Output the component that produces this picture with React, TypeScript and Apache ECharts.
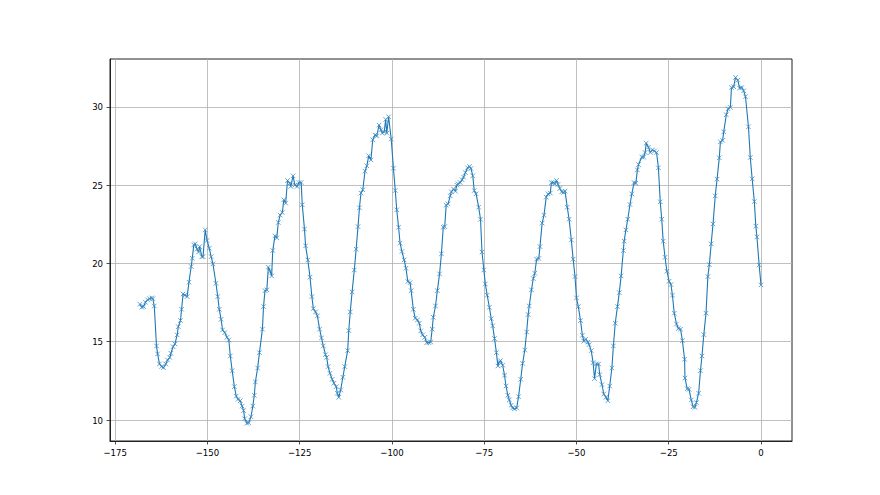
import React, { useEffect, useRef } from "react";
import * as echarts from "echarts";

const hours = [
  -168.3, -167.8, -167.3, -166.8, -166.2, -165.7, -165.1, -164.8, -164.4, -163.8,
  -163.5, -163.0, -162.4, -161.9, -161.3, -160.8, -160.2, -159.9, -159.3, -158.8,
  -158.2, -157.9, -157.3, -157.0, -156.6, -156.1, -155.5, -155.0, -154.4, -154.1,
  -153.7, -153.3, -152.8, -152.4, -152.1, -151.5, -151.2, -150.6, -150.1, -149.5,
  -149.0, -148.5, -147.7, -147.2, -146.8, -146.3, -145.9,
  -145.3, -144.7, -144.2, -143.8, -143.3, -142.7, -142.2, -141.7, -141.1, -140.6,
  -140.2, -139.9, -139.3, -138.8, -138.2, -137.7, -137.3, -137.0, -136.4, -135.9,
  -135.1, -134.8, -134.4, -133.9, -133.5, -133.0, -132.6, -132.3, -131.7, -131.2,
  -130.8, -130.3, -129.7, -129.3, -128.8, -128.3, -127.7, -127.4, -126.8, -126.3,
  -125.7, -125.2, -124.6, -124.3, -123.7, -123.4, -122.8,
  -122.2, -121.7, -121.3, -120.7, -120.2, -119.6, -119.1, -118.6, -118.0, -117.7,
  -117.3, -116.8, -116.2, -115.7, -115.1, -114.8, -114.4, -113.9, -113.3, -112.8,
  -112.0, -111.7, -111.3, -110.8, -110.2, -109.7, -109.2, -108.8, -108.4, -107.9,
  -107.3, -106.8, -106.3, -105.7, -105.2, -104.6, -104.1, -103.5, -103.0, -102.6,
  -102.1, -101.7, -101.4, -100.9, -100.2,
  -99.6, -99.1, -98.7, -98.2, -97.8, -97.3, -96.7, -96.2, -95.7, -95.1,
  -94.8, -94.2, -93.7, -93.1, -92.6, -92.2, -91.7, -91.1, -90.6, -90.0,
  -89.5, -89.1, -88.8, -88.2, -87.7, -87.1, -86.6, -86.1, -85.7, -85.3,
  -84.8, -84.2, -83.9, -83.3, -82.8, -82.4, -82.1, -81.5, -81.0, -80.6,
  -80.1, -79.5, -79.0, -78.6, -78.1, -77.7, -77.2,
  -76.5, -76.0, -75.6, -75.1, -74.7, -74.2, -73.6, -73.1, -72.7, -72.2,
  -71.7, -71.3, -70.9, -70.6, -70.0, -69.5, -69.1, -68.6, -68.2, -67.7,
  -67.3, -66.8, -66.2, -65.7, -65.1, -64.6, -64.0, -63.5, -63.1, -62.8,
  -62.2, -61.7, -61.3, -60.8, -60.2, -59.9, -59.3, -58.8, -58.2, -57.7,
  -57.1, -56.8, -56.3, -55.9, -55.4, -55.0,
  -54.5, -54.0, -53.5, -53.1, -52.5, -52.0, -51.4, -50.9, -50.4, -50.0,
  -49.5, -48.9, -48.4, -48.0, -47.5, -46.9, -46.6, -46.0, -45.5, -45.1,
  -44.6, -44.0, -43.7, -43.1, -42.6, -42.0, -41.5, -41.0, -40.4, -40.0,
  -39.5, -38.9, -38.4, -37.9, -37.3, -37.1, -36.6, -36.1, -35.5, -35.0,
  -34.4, -33.9, -33.5, -33.2,
  -32.3, -31.8, -31.4, -31.1, -30.5, -30.0, -29.4, -28.9, -28.3, -27.8,
  -27.3, -26.9, -26.5, -26.0, -25.5, -24.9, -24.4, -24.0, -23.5, -22.9,
  -22.4, -21.8, -21.3, -20.7, -20.6, -20.0, -19.5, -18.9, -18.4, -17.9,
  -17.5, -16.9, -16.4, -16.0, -15.5, -14.9, -14.4, -14.0, -13.5, -13.0,
  -12.4, -11.9, -11.3, -11.0, -10.4, -10.1,
  -9.4, -8.9, -8.3, -8.0, -7.4, -6.9, -6.3, -5.8, -5.2, -4.7,
  -4.2, -3.4, -2.9, -2.4, -1.8, -1.4, -1.1, -0.5, 0.0,
];

const temps = [
  17.39, 17.2, 17.24, 17.52, 17.67, 17.75, 17.8, 17.75, 17.28, 14.73,
  14.22, 13.58, 13.41, 13.34, 13.58, 13.83, 14.0, 14.26, 14.68, 14.86,
  15.43, 15.96, 16.35, 17.07, 18.05, 17.97, 17.88, 18.8, 19.8, 20.33,
  21.18, 21.25, 20.91, 20.73, 21.07, 20.43, 20.43, 22.14, 21.46, 20.97,
  20.43, 19.97, 18.73, 17.88, 17.07, 16.43, 15.75,
  15.58, 15.28, 15.11, 14.09, 13.15, 12.13, 11.53, 11.32, 11.23, 10.89,
  10.6, 10.08, 9.79, 9.83, 10.21, 10.89, 11.58, 12.43, 13.32, 14.3,
  15.8, 17.24, 18.26, 18.31, 19.76, 19.5, 19.2, 20.82, 21.76, 21.63,
  22.61, 23.08, 23.25, 24.06, 23.85, 25.29, 25.12, 24.91, 25.59, 25.0,
  24.91, 25.16, 25.16, 23.74, 22.19, 21.12, 20.22,
  19.12, 17.88, 17.11, 16.9, 16.65, 15.8, 15.24, 14.73, 14.17, 14.0,
  13.41, 12.98, 12.6, 12.35, 12.13, 11.71, 11.45, 11.92, 12.73, 13.41,
  14.43, 15.71, 16.9, 18.18, 19.58, 20.91, 22.35, 23.55, 24.49, 24.7,
  25.89, 26.23, 26.87, 26.61, 27.89, 28.19, 28.15, 28.83, 28.53, 28.32,
  28.4, 29.19, 28.32, 29.36, 27.94,
  26.08, 24.65, 23.42, 22.31, 21.29, 20.76, 20.22, 19.69, 18.84, 18.77,
  18.26, 17.07, 16.5, 16.39, 16.18, 15.69, 15.43, 15.28, 14.94, 14.94,
  14.98, 15.8, 16.56, 17.28, 18.26, 19.33, 20.61, 22.31, 22.35, 23.72,
  23.8, 24.31, 24.57, 24.74, 24.61, 25.0, 25.08, 25.16, 25.34, 25.51,
  25.8, 26.1, 26.19, 26.06, 25.59, 24.65, 24.44,
  23.59, 22.82, 20.73, 19.58, 18.69, 17.97, 17.2, 16.47, 16.01, 15.2,
  14.3, 13.45, 13.71, 13.79, 13.5, 12.86, 12.17, 11.58, 11.28, 10.94,
  10.77, 10.72, 10.77, 11.49, 12.6, 13.62, 14.47, 15.62, 16.73, 17.28,
  18.31, 19.03, 19.37, 20.27, 20.31, 21.07, 22.57, 23.08, 24.23, 24.44,
  24.49, 25.16, 25.16, 25.08, 25.29, 25.04,
  24.78, 24.57, 24.53, 24.61, 23.59, 22.82, 21.5, 20.27, 19.16, 17.8,
  17.24, 16.35, 15.41, 15.03, 15.16, 14.98, 14.81, 14.43, 13.66, 12.64,
  13.58, 13.58, 12.9, 12.26, 11.66, 11.45, 11.23, 12.17, 13.32, 14.73,
  16.18, 17.24, 18.13, 19.2, 20.82, 21.42, 22.14, 22.82, 23.76, 24.44,
  25.16, 25.12, 25.97, 26.31,
  26.79, 26.79, 27.08, 27.68, 27.42, 27.08, 27.25, 27.17, 27.08, 26.1,
  23.93, 22.82, 21.42, 20.39, 19.5, 18.86, 18.65, 17.97, 16.82, 16.13,
  15.84, 15.8, 15.07, 13.88, 12.68, 12.0, 11.96, 11.28, 10.85, 10.81,
  11.11, 11.71, 13.15, 14.09, 15.45, 16.82, 19.16, 19.92, 21.25, 22.52,
  24.31, 25.38, 26.74, 27.76, 27.85, 28.4,
  29.49, 29.87, 29.96, 31.23, 31.28, 31.87, 31.7, 31.19, 31.23, 31.02,
  30.64, 28.72, 26.76, 25.4, 23.95, 22.38, 21.69, 19.9, 18.63,
];

const xTicks = [-175, -150, -125, -100, -75, -50, -25, 0];
const yTicks = [10, 15, 20, 25, 30];

const fmt = (v: number) => String(v).replace("-", "\u2212");

export default function App() {
  const ref = useRef<HTMLDivElement>(null);
  useEffect(() => {
    const chart = echarts.init(ref.current!, null, { renderer: "svg" });
    const labelStyle = {
      color: "#000",
      fontSize: 9.5,
      fontFamily: "DejaVu Sans Condensed, DejaVu Sans, sans-serif",
      formatter: fmt,
    };
    chart.setOption({
      animation: false,
      backgroundColor: "#ffffff",
      grid: {
        left: 110,
        right: 88,
        top: 59,
        bottom: 54,
        show: true,
        borderColor: "#222",
        borderWidth: 1,
        backgroundColor: "transparent",
      },
      xAxis: {
        type: "value",
        min: -176.4,
        max: 8.4,
        minInterval: 25,
        maxInterval: 25,
        axisLine: { show: true, onZero: false, lineStyle: { color: "#222", width: 1 } },
        axisTick: { show: true, length: 3.5, lineStyle: { color: "#222", width: 0.8 }, customValues: xTicks },
        axisLabel: { ...labelStyle, margin: 6, customValues: xTicks, showMinLabel: true, showMaxLabel: true },
        splitLine: { show: true, lineStyle: { color: "#b0b0b0", width: 0.8 } },
      },
      yAxis: {
        type: "value",
        min: 8.66,
        max: 33.05,
        minInterval: 5,
        maxInterval: 5,
        axisLine: { show: true, onZero: false, lineStyle: { color: "#222", width: 1 } },
        axisTick: { show: true, length: 3.5, lineStyle: { color: "#222", width: 0.8 }, customValues: yTicks },
        axisLabel: { ...labelStyle, margin: 7, customValues: yTicks, showMinLabel: true, showMaxLabel: true },
        splitLine: { show: true, lineStyle: { color: "#b0b0b0", width: 0.8 } },
      },
      series: [
        {
          type: "line",
          data: hours.map((h, i) => [h, temps[i]]),
          showAllSymbol: true,
          symbol: "path://M0,0L10,10M0,10L10,0",
          symbolSize: 4.5,
          itemStyle: { color: "#1f77b4", borderColor: "#3b8bc4", borderWidth: 0.8 },
          lineStyle: { color: "#1f77b4", width: 1.1 },
          emphasis: { disabled: true },
          z: 3,
        },
      ],
    });
    return () => chart.dispose();
  }, []);
  return (
    <div
      ref={ref}
      style={{ position: "fixed", left: 0, top: 0, width: 880, height: 495, background: "#fff" }}
    />
  );
}
